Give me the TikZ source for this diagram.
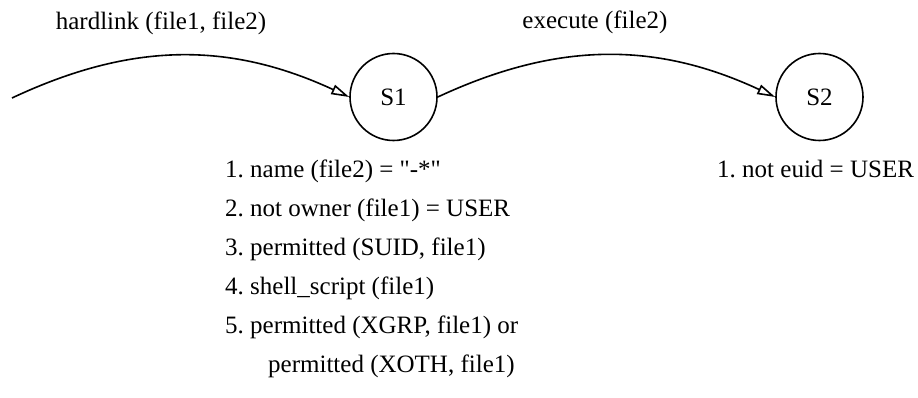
\documentclass[tikz,border=0pt]{standalone}
\usepackage{fontspec}
\setmainfont{Liberation Serif}
\usetikzlibrary{arrows.meta}
\frenchspacing

\begin{document}
\begin{tikzpicture}[x=1pt,y=1pt,
  font=\fontsize{25}{30}\selectfont,
  state/.style={draw,circle,line width=1.6pt,minimum size=87pt,inner sep=0pt},
  trans/.style={line width=1.6pt,-{Triangle[open,length=18pt,width=10pt]}},
  cond/.style={anchor=base west,inner sep=0pt}]
  \useasboundingbox (0,0) rectangle (918,-398);

  % States
  \node[state] (s1) at (393.5,-97) {S1};
  \node[state] (s2) at (819.5,-97) {S2};
  \coordinate (start) at (12,-98);

  % Transitions
  \draw[trans] (start) to[bend left=25] (s1.west);
  \draw[trans] (s1.east) to[bend left=25] (s2.west);
  \node[anchor=base] (t1) at (161,-30) {hardlink (file1, file2)};
  \node[anchor=base] (t2) at (595,-29) {execute (file2)};

  % Conditions of S1
  \foreach \t [count=\i] in {{1. name (file2) = \textquotedbl-*\textquotedbl},
                             {2. not owner (file1) = USER},
                             {3. permitted (SUID, file1)},
                             {4. shell\_script (file1)},
                             {5. permitted (XGRP, file1) or}}
    \node[cond] (c\i) at (225,{-178-38.8*(\i-1)}) {\t};
  \node[cond] (c6) at (268,-372) {permitted (XOTH, file1)};

  % Conditions of S2
  \node[cond] (d1) at (717,-178) {1. not euid = USER};
\end{tikzpicture}
\end{document}
